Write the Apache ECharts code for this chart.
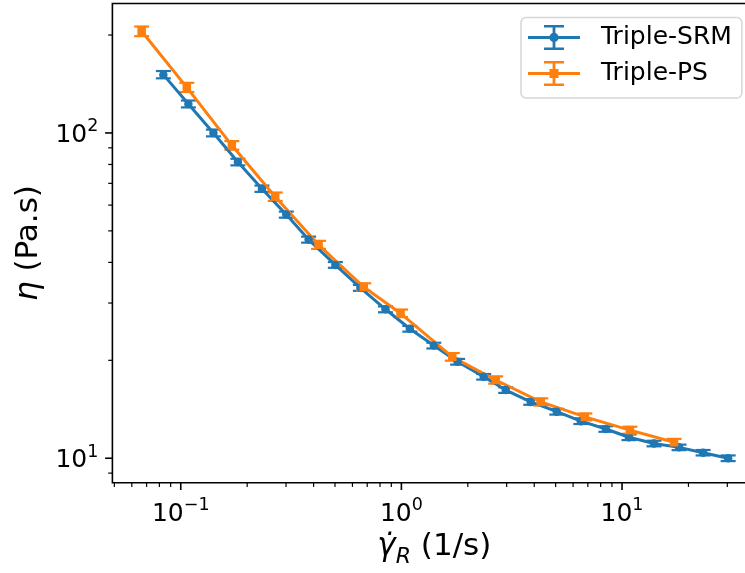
<!DOCTYPE html>
<html>
<head>
<meta charset="utf-8">
<script src="https://cdn.jsdelivr.net/npm/echarts@6/dist/echarts.min.js"></script>
<style>
  html, body { margin: 0; padding: 0; background: #fff; }
  #chart { width: 745px; height: 573px; }
</style>
</head>
<body>
<div id="chart"></div>
<script>
// ---- Data ----
const seriesNames = ['Triple-SRM', 'Triple-PS'];

const srmX = [0.0834, 0.1083, 0.1406, 0.1815, 0.2333, 0.3008, 0.3797, 0.502, 0.652, 0.847, 1.092, 1.403,
              1.798, 2.360, 2.971, 3.858, 5.063, 6.507, 8.45, 10.75, 13.96, 18.13, 23.30, 30.27];
const srmY = [151.1, 122.8, 100.0, 81.4, 67.4, 56.1, 47.0, 39.3, 33.4, 28.7, 25.0, 22.2,
              19.8, 17.8, 16.2, 14.9, 13.9, 13.0, 12.3, 11.6, 11.1, 10.8, 10.4, 10.0];
const srmErr = [3.9, 3.0, 2.4, 1.9, 1.5, 1.2, 1.0, 0.8, 0.7, 0.6, 0.5, 0.45,
                0.4, 0.35, 0.32, 0.3, 0.28, 0.26, 0.24, 0.23, 0.22, 0.21, 0.2, 0.2];

const psX = [0.0665, 0.1065, 0.1704, 0.268, 0.4214, 0.675, 0.991, 1.701, 2.675, 4.282, 6.784, 10.86, 17.21];
const psY = [205.4, 138.1, 91.6, 63.7, 45.3, 33.6, 27.9, 20.5, 17.4, 14.9, 13.4, 12.2, 11.2];
const psErr = [7.0, 4.5, 2.8, 1.9, 1.3, 0.9, 0.75, 0.55, 0.45, 0.38, 0.33, 0.3, 0.27];

// axis ranges and ticks
const xRange = [0.0490, 40.6];
const yRange = [8.41, 250];
const xMajorTicks = [0.1, 1, 10];
const xMinorTicks = [0.05, 0.06, 0.07, 0.08, 0.09, 0.2, 0.3, 0.4, 0.5, 0.6, 0.7, 0.8, 0.9,
                     2, 3, 4, 5, 6, 7, 8, 9, 20, 30, 40];
const yMajorTicks = [10, 100];
const yMinorTicks = [9, 20, 30, 40, 50, 60, 70, 80, 90, 200];

// ---- Styling ----
const C_SRM = '#1f77b4';
const C_PS = '#ff7f0e';
const FONT = 'DejaVu Sans';

function zip(a, b, c) { return a.map((v, i) => c ? [v, b[i], c[i]] : [v, b[i]]); }

function powLabel(v) {
  const l = Math.log10(v);
  const e = Math.round(l);
  if (Math.abs(l - e) > 1e-6) return '';
  const es = e < 0 ? '\u2212' + (-e) : String(e);
  return '{b|10}{s|' + es + '}';
}
const tickRich = {
  b: { fontSize: 25, fontFamily: FONT, color: '#000', verticalAlign: 'bottom', lineHeight: 30 },
  s: { fontSize: 17.5, fontFamily: FONT, color: '#000', verticalAlign: 'top' }
};

function errRender(color) {
  return function (params, api) {
    const x = api.value(0), y = api.value(1), e = api.value(2);
    const t = api.coord([x, y + e]);
    const b = api.coord([x, y - e]);
    const cw = 7.5;
    return {
      type: 'group',
      children: [
        { type: 'line', shape: { x1: t[0], y1: t[1], x2: b[0], y2: b[1] }, style: { stroke: color, lineWidth: 3 } },
        { type: 'line', shape: { x1: t[0] - cw, y1: t[1], x2: t[0] + cw, y2: t[1] }, style: { stroke: color, lineWidth: 2.2 } },
        { type: 'line', shape: { x1: b[0] - cw, y1: b[1], x2: b[0] + cw, y2: b[1] }, style: { stroke: color, lineWidth: 2.2 } }
      ]
    };
  };
}

const xTickData = xMajorTicks.map(v => [v, yRange[0], 7.3, 1.6]).concat(xMinorTicks.map(v => [v, yRange[0], 4.2, 1.2]));
const yTickData = yMajorTicks.map(v => [xRange[0], v, 7.3, 1.6]).concat(yMinorTicks.map(v => [xRange[0], v, 4.2, 1.2]));

const iconSRM = 'path://M0 11 L52 11 L52 14 L0 14 Z M24.6 0 L27.4 0 L27.4 25 L24.6 25 Z ' +
  'M16 0 L36 0 L36 2.4 L16 2.4 Z M16 22.6 L36 22.6 L36 25 L16 25 Z ' +
  'M30.7 12.5 A4.7 4.7 0 1 1 21.3 12.5 A4.7 4.7 0 1 1 30.7 12.5 Z';
const iconPS = 'path://M0 11 L52 11 L52 14 L0 14 Z M24.6 0 L27.4 0 L27.4 25 L24.6 25 Z ' +
  'M16 0 L36 0 L36 2.4 L16 2.4 Z M16 22.6 L36 22.6 L36 25 L16 25 Z ' +
  'M21.5 8 L30.5 8 L30.5 17 L21.5 17 Z';

const chart = echarts.init(document.getElementById('chart'), null, { renderer: 'canvas' });
chart.setOption({
  animation: false,
  backgroundColor: '#fff',
  grid: {
    left: 112.4, top: 3.5, width: 643.9, height: 479.2,
    outerBoundsMode: 'none', containLabel: false,
    show: true, borderColor: '#000', borderWidth: 1.6, backgroundColor: 'transparent'
  },
  legend: {
    data: [
      { name: seriesNames[0], icon: iconSRM },
      { name: seriesNames[1], icon: iconPS }
    ],
    orient: 'vertical',
    left: 521, top: 17.5,
    itemWidth: 52, itemHeight: 25, itemGap: 11,
    padding: [7.5, 10, 12, 7],
    backgroundColor: 'rgba(255,255,255,0.8)',
    borderColor: '#d6d6d6', borderWidth: 1.5, borderRadius: 5,
    itemStyle: { borderWidth: 0 },
    textStyle: { fontSize: 25, fontFamily: FONT, color: '#000', padding: [0, 0, 0, 16] }
  },
  xAxis: {
    type: 'log', logBase: 10, min: xRange[0], max: xRange[1],
    axisLine: { show: false }, axisTick: { show: false }, splitLine: { show: false },
    axisLabel: { formatter: powLabel, rich: tickRich, margin: 14, showMinLabel: false, showMaxLabel: false },
    name: '{g|\u03B3\u0307}{r|R}{t| (1/s)}',
    nameLocation: 'middle', nameGap: 48,
    nameTextStyle: {
      rich: {
        g: { fontSize: 31, fontFamily: FONT, fontStyle: 'italic', color: '#000', verticalAlign: 'bottom', padding: [0, 0, 6, 0] },
        r: { fontSize: 22, fontFamily: FONT, fontStyle: 'italic', color: '#000', verticalAlign: 'bottom' },
        t: { fontSize: 31, fontFamily: FONT, color: '#000', verticalAlign: 'bottom', padding: [0, 0, 6, 0] }
      }
    }
  },
  yAxis: {
    type: 'log', logBase: 10, min: yRange[0], max: yRange[1],
    axisLine: { show: false }, axisTick: { show: false }, splitLine: { show: false },
    axisLabel: { formatter: powLabel, rich: tickRich, margin: 14, showMinLabel: false, showMaxLabel: false },
    name: '{i|\u03B7}{t| (Pa.s)}',
    nameLocation: 'middle', nameGap: 66, nameRotate: 90,
    nameTextStyle: {
      rich: {
        i: { fontSize: 31, fontFamily: FONT, fontStyle: 'italic', color: '#000' },
        t: { fontSize: 31, fontFamily: FONT, color: '#000' }
      }
    }
  },
  series: [
    {
      name: 'srm-err', type: 'custom', data: zip(srmX, srmY, srmErr),
      encode: { x: 0, y: 1 }, renderItem: errRender(C_SRM), z: 2, silent: true
    },
    {
      name: seriesNames[0], type: 'line', data: zip(srmX, srmY),
      color: C_SRM, symbol: 'circle', symbolSize: 8.5, showSymbol: true,
      lineStyle: { width: 3, color: C_SRM }, itemStyle: { color: C_SRM, borderWidth: 0 }, z: 2
    },
    {
      name: 'ps-err', type: 'custom', data: zip(psX, psY, psErr),
      encode: { x: 0, y: 1 }, renderItem: errRender(C_PS), z: 2, silent: true
    },
    {
      name: seriesNames[1], type: 'line', data: zip(psX, psY),
      color: C_PS, symbol: 'rect', symbolSize: 8.5, showSymbol: true,
      lineStyle: { width: 3, color: C_PS }, itemStyle: { color: C_PS, borderWidth: 0 }, z: 2
    },
    {
      name: 'x-ticks', type: 'custom', data: xTickData, encode: { x: 0, y: 1 }, silent: true, z: 5,
      renderItem: function (params, api) {
        const p = api.coord([api.value(0), api.value(1)]);
        return { type: 'line', shape: { x1: p[0], y1: p[1], x2: p[0], y2: p[1] + api.value(2) },
                 style: { stroke: '#000', lineWidth: api.value(3) } };
      }
    },
    {
      name: 'y-ticks', type: 'custom', data: yTickData, encode: { x: 0, y: 1 }, silent: true, z: 5,
      renderItem: function (params, api) {
        const p = api.coord([api.value(0), api.value(1)]);
        return { type: 'line', shape: { x1: p[0] - api.value(2), y1: p[1], x2: p[0], y2: p[1] },
                 style: { stroke: '#000', lineWidth: api.value(3) } };
      }
    }
  ]
});
</script>
</body>
</html>
